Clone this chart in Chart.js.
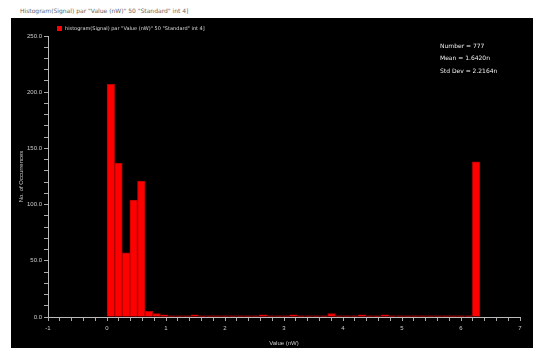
<!DOCTYPE html>
<html>
<head>
<meta charset="utf-8">
<script src="https://cdn.jsdelivr.net/npm/chart.js@4/dist/chart.umd.min.js"></script>
<style>
  html, body { margin: 0; padding: 0; background: #fff; width: 533px; height: 348px; overflow: hidden; }
  #title { position: absolute; left: 20px; top: 7px; font: 6px "DejaVu Sans", sans-serif; color: #666; white-space: nowrap; }
  #panel { position: absolute; left: 11px; top: 18px; width: 522px; height: 330px; background: #000; }
</style>
</head>
<body>
<div id="title">Histogram(Signal) par "Value (nW)" 50 "Standard" int 4]</div>
<div id="panel"><canvas id="histChart" width="522" height="330"></canvas></div>
<script>
// bin centres (nW) and counts per bin
const binCenters = [0.065, 0.194, 0.323, 0.452, 0.581, 0.710, 0.839, 0.968, 1.097, 1.226,
  1.355, 1.484, 1.613, 1.742, 1.871, 2.000, 2.129, 2.258, 2.387, 2.516,
  2.645, 2.774, 2.903, 3.032, 3.161, 3.290, 3.419, 3.548, 3.677, 3.806,
  3.935, 4.064, 4.193, 4.322, 4.451, 4.580, 4.709, 4.838, 4.967, 5.096,
  5.225, 5.354, 5.483, 5.612, 5.741, 5.870, 5.999, 6.128, 6.257, 6.386];
const counts = [207, 137, 57, 104, 121, 5, 3, 2, 1, 1,
  1, 2, 1, 1, 1, 1, 1, 1, 1, 1,
  2, 1, 1, 1, 2, 1, 1, 1, 1, 3,
  1, 1, 1, 2, 1, 1, 2, 1, 1, 1,
  1, 1, 1, 1, 1, 1, 1, 1, 138, 0];
const legendLabel = 'histogram(Signal) par "Value (nW)" 50 "Standard" int 4]';
const statsLines = ["Number = 777", "Mean = 1.6420n", "Std Dev = 2.2164n"];

const points = binCenters.map((x, i) => ({ x: x, y: counts[i] }));

const overlay = {
  id: "overlay",
  afterDraw(chart) {
    const ctx = chart.ctx;
    ctx.save();
    // legend
    ctx.fillStyle = "#ff0000";
    ctx.fillRect(46, 8, 5, 5);
    ctx.fillStyle = "#ddd";
    ctx.font = "5px 'DejaVu Sans', sans-serif";
    ctx.textBaseline = "middle";
    ctx.fillText(legendLabel, 54, 11);
    // stats box
    ctx.font = "6px 'DejaVu Sans', sans-serif";
    ctx.fillStyle = "#eee";
    statsLines.forEach((t, i) => ctx.fillText(t, 429, 28 + i * 12.5));
    ctx.restore();
  },
};

const ctx = document.getElementById("histChart").getContext("2d");
const histChart = new Chart(ctx, {
  type: "bar",
  data: {
    datasets: [
      {
        label: legendLabel,
        data: points,
        backgroundColor: "#ff0000",
        borderColor: "#b00000",
        borderWidth: 1,
        barPercentage: 1,
        categoryPercentage: 1,
      },
    ],
  },
  options: {
    responsive: false,
    animation: false,
    layout: { padding: { top: 18, right: 13, left: 0, bottom: 0 } },
    plugins: { legend: { display: false }, tooltip: { enabled: false } },
    scales: {
      x: {
        type: "linear",
        offset: false,
        min: -1,
        max: 7,
        afterFit: (s) => { s.height = 31; },
        grid: { display: true, offset: false, drawOnChartArea: false, color: "#aaa", tickLength: 4 },
        border: { color: "#bbb" },
        ticks: {
          stepSize: 0.2,
          autoSkip: false,
          maxRotation: 0,
          color: "#ccc",
          font: { size: 6 },
          padding: 4,
          callback: (v) => (Math.abs(v - Math.round(v)) < 1e-6 ? String(Math.round(v)) : ""),
        },
        title: { display: true, text: "Value (nW)", color: "#ccc", font: { size: 6 }, padding: 1 },
      },
      y: {
        min: 0,
        max: 250,
        afterFit: (s) => { s.width = 37; },
        grid: { display: true, drawOnChartArea: false, color: "#aaa", tickLength: 4 },
        border: { color: "#bbb" },
        ticks: {
          stepSize: 10,
          autoSkip: false,
          color: "#ccc",
          font: { size: 6 },
          padding: 2,
          callback: (v) => (v % 50 === 0 ? v.toFixed(1) : ""),
        },
        title: { display: true, text: "No. of Occurrences", color: "#ccc", font: { size: 6 }, padding: { top: 7, bottom: 0 } },
      },
    },
  },
  plugins: [overlay],
});
</script>
</body>
</html>
